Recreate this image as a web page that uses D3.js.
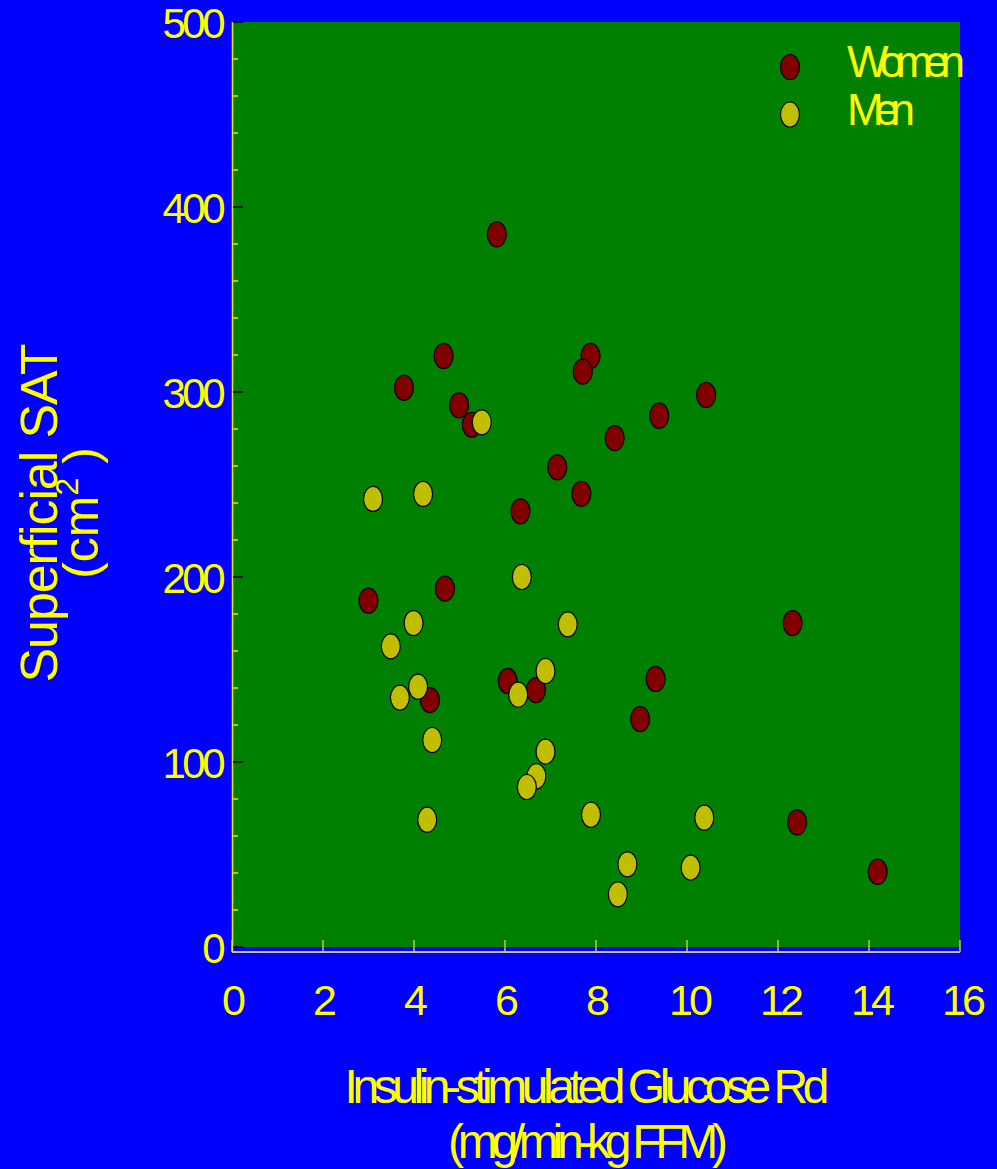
<!DOCTYPE html>
<html>
<head>
<meta charset="utf-8">
<script src="https://cdn.jsdelivr.net/npm/d3@7"></script>
<style>
  html, body { margin: 0; padding: 0; background: #0000ff; }
  svg { display: block; }
  text { font-family: "Liberation Sans", Arial, sans-serif; fill: #ffff00; }
</style>
</head>
<body>
<svg id="chart" width="997" height="1169"></svg>
<script>
// Insulin-stimulated glucose disposal (x) vs superficial SAT area (y)
const womenRd  = [5.82, 4.65, 3.78, 4.99, 5.27, 7.88, 7.71, 10.42, 9.39, 8.41, 7.15, 7.68, 6.34, 3.00, 4.68, 12.32, 6.06, 6.68, 4.35, 9.31, 8.97, 12.42, 14.19];
const womenSAT = [385.2, 319.5, 302.3, 292.8, 282.3, 319.5, 311.0, 298.4, 287.2, 275.1, 259.3, 245.0, 235.5, 187.2, 193.7, 175.1, 143.8, 138.9, 133.5, 144.9, 123.2, 67.4, 40.7];

const menRd  = [5.49, 3.10, 4.20, 6.37, 3.99, 7.38, 3.49, 3.69, 4.09, 6.29, 6.89, 4.40, 6.89, 6.69, 6.48, 4.29, 7.89, 10.38, 8.69, 10.08, 8.48];
const menSAT = [283.6, 242.2, 244.9, 200.0, 175.1, 174.4, 162.5, 134.8, 140.7, 136.4, 149.2, 111.9, 105.6, 92.3, 86.5, 68.8, 71.5, 69.9, 44.7, 42.9, 28.5];

const xTicks = [0, 2, 4, 6, 8, 10, 12, 14, 16];
const yTicks = [0, 100, 200, 300, 400, 500];
const yMinorTicks = d3.range(0, 501, 20);

const seriesNames = ["Women", "Men"];
const seriesColors = ["#800000", "#bfbf00"];

const svg = d3.select("#chart");
const x = d3.scaleLinear().domain([0, 16]).range([232, 960]);
const y = d3.scaleLinear().domain([0, 500]).range([947, 22]);

// plotting area
svg.append("rect")
  .attr("x", x(0)).attr("y", y(500))
  .attr("width", x(16) - x(0)).attr("height", y(0) - y(500))
  .attr("fill", "#008000");

// x axis: separate baseline just below the plot area, ticks pointing up
const xAxisY = 952;
svg.append("line")
  .attr("x1", x(0)).attr("x2", x(16)).attr("y1", xAxisY).attr("y2", xAxisY)
  .attr("stroke", "#c8c878").attr("stroke-width", 2);
svg.append("g").selectAll("line").data(xTicks).join("line")
  .attr("x1", d => x(d)).attr("x2", d => x(d))
  .attr("y1", xAxisY).attr("y2", xAxisY - 12)
  .attr("stroke", "#c8c840").attr("stroke-width", 1.5);
svg.append("g").selectAll("text").data(xTicks).join("text")
  .attr("x", d => x(d) + (d >= 10 ? 2 : 0)).attr("y", 1015)
  .attr("text-anchor", "middle")
  .attr("font-size", 43)
  .attr("letter-spacing", "-4px")
  .text(d => d);

// y axis line with minor (yellow) and major (black) inward ticks
svg.append("line")
  .attr("x1", 232.5).attr("x2", 232.5).attr("y1", y(500)).attr("y2", xAxisY)
  .attr("stroke", "#e6e600").attr("stroke-width", 1.5);
svg.append("g").selectAll("line").data(yMinorTicks.filter(d => d % 100 !== 0)).join("line")
  .attr("x1", 233).attr("x2", 238)
  .attr("y1", d => y(d)).attr("y2", d => y(d))
  .attr("stroke", "#e6e600").attr("stroke-width", 1.5);
svg.append("g").selectAll("line").data(yTicks).join("line")
  .attr("x1", 233).attr("x2", 243)
  .attr("y1", d => y(d)).attr("y2", d => y(d))
  .attr("stroke", "#000000").attr("stroke-width", 1.5);
svg.append("g").selectAll("text").data(yTicks).join("text")
  .attr("x", 222).attr("y", d => y(d) + 16)
  .attr("text-anchor", "end")
  .attr("font-size", 42)
  .attr("letter-spacing", "-3.5px")
  .text(d => d);

// data markers (women first, men drawn over them)
const ellipseRx = 9.5, ellipseRy = 12.5;
function drawSeries(xs, ys, color) {
  svg.append("g").selectAll("ellipse").data(xs.map((v, i) => [v, ys[i]])).join("ellipse")
    .attr("cx", d => x(d[0])).attr("cy", d => y(d[1]))
    .attr("rx", ellipseRx).attr("ry", ellipseRy)
    .attr("fill", color).attr("stroke", "#000").attr("stroke-width", 1.2);
}
drawSeries(womenRd, womenSAT, seriesColors[0]);
drawSeries(menRd, menSAT, seriesColors[1]);

// legend
const legend = svg.append("g");
seriesNames.forEach((name, i) => {
  const cy = 67 + i * 47.5;
  legend.append("ellipse")
    .attr("cx", 790).attr("cy", cy).attr("rx", ellipseRx).attr("ry", ellipseRy)
    .attr("fill", seriesColors[i]).attr("stroke", "#000").attr("stroke-width", 1.2);
  legend.append("text")
    .attr("x", 847).attr("y", cy + 10)
    .attr("font-size", 44)
    .attr("textLength", name === "Women" ? 118 : 68)
    .attr("lengthAdjust", "spacing")
    .text(name);
});

// x axis title
svg.append("text")
  .attr("x", 587).attr("y", 1103)
  .attr("text-anchor", "middle")
  .attr("font-size", 48)
  .attr("textLength", 485).attr("lengthAdjust", "spacing")
  .text("Insulin-stimulated Glucose Rd");
svg.append("text")
  .attr("x", 588).attr("y", 1158)
  .attr("text-anchor", "middle")
  .attr("font-size", 48)
  .attr("textLength", 280).attr("lengthAdjust", "spacing")
  .text("(mg/min-kg FFM)");

// y axis title (rotated)
const yTitle = svg.append("g").attr("transform", "translate(0,513) rotate(-90)");
yTitle.append("text")
  .attr("x", 0).attr("y", 57)
  .attr("text-anchor", "middle")
  .attr("font-size", 52)
  .attr("textLength", 339).attr("lengthAdjust", "spacing")
  .text("Superficial SAT");
const unit = yTitle.append("text")
  .attr("x", 0).attr("y", 98)
  .attr("text-anchor", "middle")
  .attr("font-size", 50);
unit.append("tspan").text("(cm");
unit.append("tspan").attr("font-size", 32).attr("dy", -20).text("2");
unit.append("tspan").attr("dy", 20).text(" )");
</script>
</body>
</html>
